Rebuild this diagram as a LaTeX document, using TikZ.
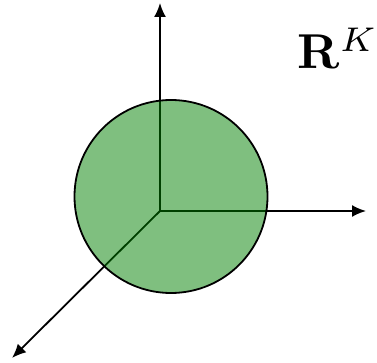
\documentclass[tikz,border=0pt]{standalone}
\usetikzlibrary{arrows.meta}
\begin{document}
\begin{tikzpicture}[x=1pt,y=-1pt,
  axis/.style={line width=1.8pt,-{Latex[length=14pt,width=12pt]}},
  ball/.style={circle,draw=black,line width=1.8pt,fill=green!50!black,fill opacity=0.5,draw opacity=1,minimum size=193pt,inner sep=0pt}]
\useasboundingbox (0,0) rectangle (377,363);
\coordinate (o) at (160,211);
\coordinate (up) at (160,3);
\coordinate (right) at (366,211);
\coordinate (down) at (12,358);
\draw[axis] (o) -- (up);
\draw[axis] (o) -- (right);
\draw[axis] (o) -- (down);
\node[ball] (b) at (171,196.5) {};
\node[anchor=base west,scale=4.9,inner sep=0pt] (lab) at (297,69) {$\mathbf{R}^K$};
\end{tikzpicture}
\end{document}
